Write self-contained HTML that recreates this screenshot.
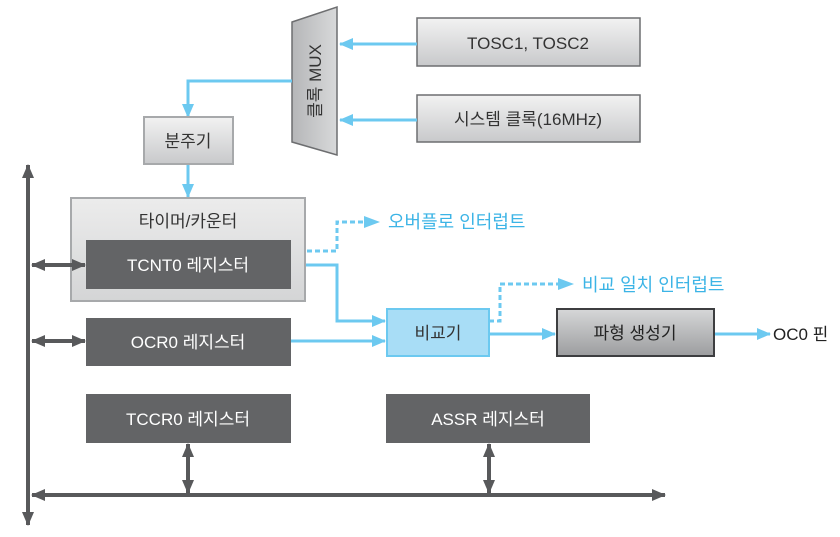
<!DOCTYPE html>
<html><head><meta charset="utf-8"><style>
body{margin:0;background:#fff;}
svg text{font-family:"Liberation Sans","Noto Sans CJK KR",sans-serif;}
</style></head><body>
<svg width="840" height="532" viewBox="0 0 840 532" xmlns="http://www.w3.org/2000/svg">
<defs>
<linearGradient id="g1" x1="0" y1="0" x2="0" y2="1"><stop offset="0" stop-color="#f2f2f2"/><stop offset="1" stop-color="#c8c9cb"/></linearGradient>
<linearGradient id="g2" x1="0" y1="0" x2="0" y2="1"><stop offset="0" stop-color="#ececec"/><stop offset="1" stop-color="#d4d5d6"/></linearGradient>
<linearGradient id="g3" x1="0" y1="0" x2="0" y2="1"><stop offset="0" stop-color="#d6d7d8"/><stop offset="1" stop-color="#9c9d9f"/></linearGradient>
<linearGradient id="g4" x1="0" y1="0" x2="1" y2="0"><stop offset="0" stop-color="#b5b6b8"/><stop offset="1" stop-color="#d8d9da"/></linearGradient>
<marker id="ab2" markerWidth="14" markerHeight="12" refX="13" refY="6" orient="auto" markerUnits="userSpaceOnUse"><path d="M0,0 L14,6 L0,12 z" fill="#6cc9f0"/></marker>
<marker id="ag" markerWidth="14" markerHeight="12" refX="13" refY="6" orient="auto-start-reverse" markerUnits="userSpaceOnUse"><path d="M0,0 L14,6 L0,12 z" fill="#58595b"/></marker>
</defs>
<polygon points="292,22 337,7 337,155 292,142" fill="url(#g4)" stroke="#6d6e70" stroke-width="1.5"/>
<text transform="translate(321,81) rotate(-90)" text-anchor="middle" font-size="17" fill="#333">클록 MUX</text>
<rect x="417" y="18" width="223" height="48" fill="url(#g1)" stroke="#6d6e70" stroke-width="1.5"/>
<text x="528" y="49" text-anchor="middle" font-size="17" fill="#333">TOSC1, TOSC2</text>
<rect x="417" y="95" width="223" height="47" fill="url(#g1)" stroke="#6d6e70" stroke-width="1.5"/>
<text x="528" y="125" text-anchor="middle" font-size="17" fill="#333">시스템 클록(16MHz)</text>
<g stroke="#6cc9f0" stroke-width="3" fill="none">
<line x1="417" y1="44" x2="340" y2="44" marker-end="url(#ab2)"/>
<line x1="417" y1="120" x2="340" y2="120" marker-end="url(#ab2)"/>
<polyline points="292,81 188,81 188,117" marker-end="url(#ab2)"/>
<line x1="188" y1="164" x2="188" y2="197" marker-end="url(#ab2)"/>
<polyline points="291,265 337,265 337,321 385,321" marker-end="url(#ab2)"/>
<line x1="291" y1="341" x2="385" y2="341" marker-end="url(#ab2)"/>
<line x1="489" y1="334" x2="555" y2="334" marker-end="url(#ab2)"/>
<line x1="714" y1="334" x2="770" y2="334" marker-end="url(#ab2)"/>
</g>
<g stroke="#6cc9f0" stroke-width="3" fill="none" stroke-dasharray="5,3">
<polyline points="291,251 337,251 337,222 366,222"/>
<polyline points="489,321 500,321 500,284 560,284"/>
</g>
<path d="M364,216 L380,222 L364,228z" fill="#6cc9f0"/>
<path d="M558,278 L574,284 L558,290z" fill="#6cc9f0"/>
<text x="388" y="228" font-size="18" fill="#3cb4e6">오버플로 인터럽트</text>
<text x="582" y="291" font-size="18" fill="#3cb4e6">비교 일치 인터럽트</text>
<rect x="144" y="117" width="89" height="47" fill="url(#g1)" stroke="#a7a9ab" stroke-width="2"/>
<text x="188" y="147" text-anchor="middle" font-size="17" fill="#333">분주기</text>
<rect x="71" y="198" width="234" height="103" fill="url(#g2)" stroke="#a7a9ab" stroke-width="2"/>
<text x="188" y="227" text-anchor="middle" font-size="17" fill="#333">타이머/카운터</text>
<rect x="86" y="240" width="205" height="49" fill="#636466"/>
<text x="188" y="271" text-anchor="middle" font-size="17" fill="#fff">TCNT0 레지스터</text>
<rect x="86" y="318" width="205" height="48" fill="#636466"/>
<text x="188" y="348" text-anchor="middle" font-size="17" fill="#fff">OCR0 레지스터</text>
<rect x="86" y="394" width="205" height="49" fill="#636466"/>
<text x="188" y="425" text-anchor="middle" font-size="17" fill="#fff">TCCR0 레지스터</text>
<rect x="386" y="394" width="204" height="49" fill="#636466"/>
<text x="488" y="425" text-anchor="middle" font-size="17" fill="#fff">ASSR 레지스터</text>
<rect x="387" y="309" width="102" height="47" fill="#a8ddf6" stroke="#6cc9f0" stroke-width="2"/>
<text x="438" y="339" text-anchor="middle" font-size="17" fill="#333">비교기</text>
<rect x="557" y="309" width="157" height="47" fill="url(#g3)" stroke="#3d3e40" stroke-width="2"/>
<text x="635" y="339" text-anchor="middle" font-size="17" fill="#222">파형 생성기</text>
<text x="773" y="340" font-size="17" fill="#222">OC0 핀</text>
<g stroke="#58595b" stroke-width="4" fill="none">
<line x1="28" y1="165" x2="28" y2="525" marker-start="url(#ag)" marker-end="url(#ag)"/>
<line x1="32" y1="495" x2="665" y2="495" marker-start="url(#ag)" marker-end="url(#ag)"/>
<line x1="32" y1="265" x2="85" y2="265" marker-start="url(#ag)" marker-end="url(#ag)"/>
<line x1="32" y1="341" x2="85" y2="341" marker-start="url(#ag)" marker-end="url(#ag)"/>
<line x1="188" y1="444" x2="188" y2="493" marker-start="url(#ag)" marker-end="url(#ag)"/>
<line x1="489" y1="444" x2="489" y2="493" marker-start="url(#ag)" marker-end="url(#ag)"/>
</g>
</svg>
</body></html>
